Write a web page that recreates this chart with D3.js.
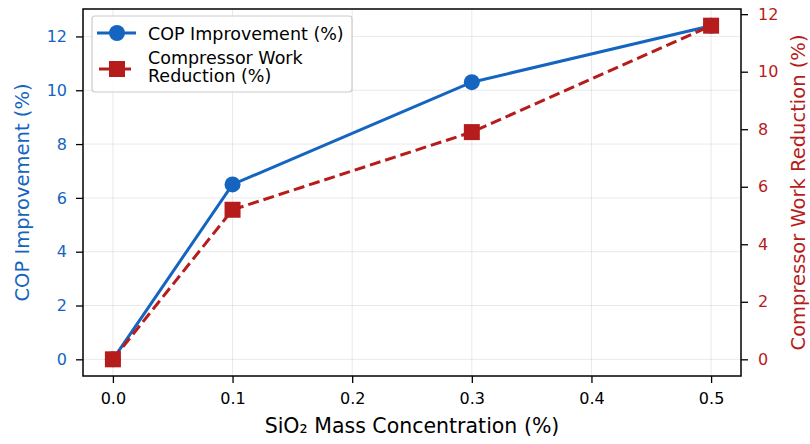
<html>
  <head>
    <script src="https://cdnjs.cloudflare.com/ajax/libs/d3/7.8.5/d3.min.js"></script>
    <style>
    body { margin: 0; background: white; }
    text { font-family: "DejaVu Sans", sans-serif; }
    .grid line { stroke: #b0b0b0; stroke-opacity: 0.35; stroke-width: 0.8; }
    </style>
  </head>
  <body>
    <svg width="810" height="444" id="chart"></svg>

    <script>
    var concentration = [0.0, 0.1, 0.3, 0.5];
    var copImprovement = [0, 6.5, 10.3, 12.4];
    var workReduction = [0, 5.2, 7.9, 11.6];
    var xTicks = [0.0, 0.1, 0.2, 0.3, 0.4, 0.5];
    var leftTicks = [0, 2, 4, 6, 8, 10, 12];
    var rightTicks = [0, 2, 4, 6, 8, 10, 12];

    var blue = '#1565C0';
    var red = '#B71C1C';

    var svg = d3.select('#chart');
    var pl = 83, pr = 741, pt = 9, pb = 376;

    var x = d3.scaleLinear().domain([-0.025, 0.525]).range([pl, pr]);
    var yL = d3.scaleLinear().domain([-0.62, 13.02]).range([pb, pt]);
    var yR = d3.scaleLinear().domain([-0.58, 12.18]).range([pb, pt]);

    // grid
    var grid = svg.append('g').attr('class', 'grid');
    grid.selectAll('.v').data(xTicks).enter().append('line')
      .attr('x1', function(d) { return x(d); }).attr('x2', function(d) { return x(d); })
      .attr('y1', pt).attr('y2', pb);
    grid.selectAll('.h').data(leftTicks).enter().append('line')
      .attr('x1', pl).attr('x2', pr)
      .attr('y1', function(d) { return yL(d); }).attr('y2', function(d) { return yL(d); });

    // axes
    function styleAxis(g, color) {
      g.select('.domain').remove();
      g.selectAll('.tick line').attr('stroke', '#000').attr('stroke-width', 1.3);
      g.selectAll('.tick text').attr('fill', color).style('font-size', '16px')
        .style('font-family', '"DejaVu Sans", sans-serif');
    }
    var xAxis = svg.append('g').attr('transform', 'translate(0,' + pb + ')')
      .call(d3.axisBottom(x).tickValues(xTicks).tickFormat(d3.format('.1f')).tickSize(7).tickPadding(10));
    styleAxis(xAxis, '#000');
    var lAxis = svg.append('g').attr('transform', 'translate(' + pl + ',0)')
      .call(d3.axisLeft(yL).tickValues(leftTicks).tickSize(7).tickPadding(9));
    styleAxis(lAxis, blue);
    var rAxis = svg.append('g').attr('transform', 'translate(' + pr + ',0)')
      .call(d3.axisRight(yR).tickValues(rightTicks).tickSize(7).tickPadding(10));
    styleAxis(rAxis, red);

    // lines
    var copLine = d3.line()
      .x(function(d, i) { return x(concentration[i]); })
      .y(function(d) { return yL(d); });
    var workLine = d3.line()
      .x(function(d, i) { return x(concentration[i]); })
      .y(function(d) { return yR(d); });

    svg.append('path').datum(copImprovement).attr('d', copLine)
      .attr('fill', 'none').attr('stroke', blue).attr('stroke-width', 3);
    svg.selectAll('.cop').data(copImprovement).enter().append('circle')
      .attr('cx', function(d, i) { return x(concentration[i]); })
      .attr('cy', function(d) { return yL(d); })
      .attr('r', 8).attr('fill', blue);

    svg.append('path').datum(workReduction).attr('d', workLine)
      .attr('fill', 'none').attr('stroke', red).attr('stroke-width', 3)
      .attr('stroke-dasharray', '11,5');
    svg.selectAll('.work').data(workReduction).enter().append('rect')
      .attr('x', function(d, i) { return x(concentration[i]) - 8; })
      .attr('y', function(d) { return yR(d) - 8; })
      .attr('width', 16).attr('height', 16).attr('fill', red);

    // frame
    svg.append('rect').attr('x', pl).attr('y', pt)
      .attr('width', pr - pl).attr('height', pb - pt)
      .attr('fill', 'none').attr('stroke', '#000').attr('stroke-width', 1.5);

    // axis labels
    svg.append('text').attr('x', (pl + pr) / 2).attr('y', 433)
      .attr('text-anchor', 'middle').style('font-size', '20.5px').attr('fill', '#000')
      .text('SiO\u2082 Mass Concentration (%)');
    svg.append('text').attr('transform', 'translate(29,' + ((pt + pb) / 2) + ') rotate(-90)')
      .attr('text-anchor', 'middle').style('font-size', '19.5px').attr('fill', blue)
      .text('COP Improvement (%)');
    svg.append('text').attr('transform', 'translate(805,' + ((pt + pb) / 2) + ') rotate(-90)')
      .attr('text-anchor', 'middle').style('font-size', '19.5px').attr('fill', red)
      .text('Compressor Work Reduction (%)');

    // legend
    var legend = svg.append('g');
    legend.append('rect').attr('x', 92).attr('y', 16).attr('width', 260).attr('height', 76)
      .attr('rx', 3).attr('fill', 'white').attr('fill-opacity', 0.85)
      .attr('stroke', '#ccc').attr('stroke-width', 1.2);
    legend.append('line').attr('x1', 97).attr('x2', 136).attr('y1', 33).attr('y2', 33)
      .attr('stroke', blue).attr('stroke-width', 3);
    legend.append('circle').attr('cx', 117).attr('cy', 33).attr('r', 8).attr('fill', blue);
    legend.append('text').attr('x', 148).attr('y', 39.5).style('font-size', '17.5px')
      .text('COP Improvement (%)');
    legend.append('line').attr('x1', 99).attr('x2', 131).attr('y1', 69).attr('y2', 69)
      .attr('stroke', red).attr('stroke-width', 3);
    legend.append('rect').attr('x', 109).attr('y', 61).attr('width', 16).attr('height', 16).attr('fill', red);
    legend.append('text').attr('x', 148).attr('y', 64).style('font-size', '17.5px')
      .text('Compressor Work');
    legend.append('text').attr('x', 148).attr('y', 82).style('font-size', '17.5px')
      .text('Reduction (%)');
    </script>
  </body>
</html>
